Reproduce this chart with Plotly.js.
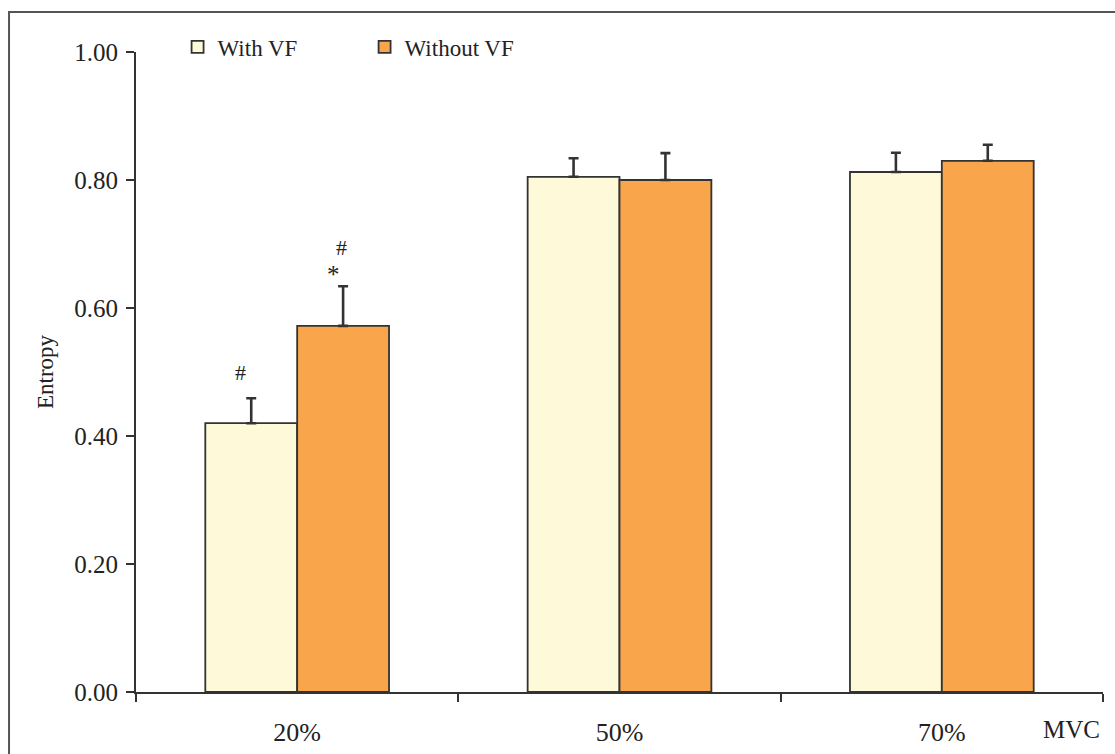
<!DOCTYPE html>
<html><head><meta charset="utf-8">
<script src="https://cdn.plot.ly/plotly-3.0.1.min.js"></script>
<style>html,body{margin:0;padding:0;background:#fff}#chart{width:1115px;height:754px}</style>
</head><body><div id="chart"></div>
<script>
const categories = ['20%', '50%', '70%'];
const withVF = [0.420, 0.805, 0.8125];
const withVFErr = [0.039, 0.029, 0.030];
const withoutVF = [0.572, 0.800, 0.830];
const withoutVFErr = [0.062, 0.042, 0.025];
const seriesNames = ['With VF', 'Without VF'];

const font = 'Liberation Serif, Times New Roman, serif';
const edge = {color: '#333333', width: 1.8};
function errs(e){ return {type: 'data', symmetric: false, array: e, arrayminus: e.map(() => 0), color: '#333333', thickness: 2.6, width: 5}; }

const traces = [
  {type: 'bar', name: seriesNames[0], x: categories, y: withVF, error_y: errs(withVFErr), marker: {color: '#FEF9D8', line: edge}},
  {type: 'bar', name: seriesNames[1], x: categories, y: withoutVF, error_y: errs(withoutVFErr), marker: {color: '#F8A54B', line: edge}}
];

const layout = {
  width: 1115, height: 754,
  margin: {l: 136, r: 12, t: 52, b: 62},
  paper_bgcolor: '#ffffff', plot_bgcolor: '#ffffff',
  font: {family: font, color: '#222222', size: 22},
  barmode: 'group', bargap: 0.43, bargroupgap: 0,
  showlegend: true,
  legend: {orientation: 'h', x: 0.043, xanchor: 'left', y: 1.008, yanchor: 'middle', font: {family: font, size: 23, color: '#222'}, entrywidth: 142, bgcolor: 'rgba(0,0,0,0)'},
  xaxis: {type: 'category', showline: true, linecolor: '#333333', linewidth: 2, ticks: 'outside', tickson: 'boundaries', ticklen: 8, tickwidth: 2, tickcolor: '#333333', showgrid: false, zeroline: false, ticklabelstandoff: 16, tickfont: {family: font, size: 26, color: '#222'}},
  yaxis: {range: [0, 1], showline: true, linecolor: '#333333', linewidth: 2, ticks: 'outside', ticklen: 8, tickwidth: 2, tickcolor: '#333333', showgrid: false, zeroline: false, tickvals: [0, 0.2, 0.4, 0.6, 0.8, 1.0], ticktext: ['0.00', '0.20', '0.40', '0.60', '0.80', '1.00'], tickfont: {family: font, size: 25, color: '#222'}, ticklabelstandoff: 3,
    title: {text: 'Entropy', font: {family: font, size: 23, color: '#222'}, standoff: 14}},
  shapes: [
    {type: 'rect', xref: 'paper', yref: 'paper', x0: -0.1313, x1: 1.2, y0: -0.3, y1: 1.0625, line: {color: '#555555', width: 2}, fillcolor: 'rgba(0,0,0,0)', layer: 'below'}
  ],
  annotations: [
    {xref: 'x', yref: 'y', x: '20%', xshift: -57, y: 0.5, text: '#', showarrow: false, font: {family: font, size: 22, color: '#222'}},
    {xref: 'x', yref: 'y', x: '20%', xshift: 36, y: 0.652, text: '*', showarrow: false, font: {family: font, size: 25, color: '#222'}},
    {xref: 'x', yref: 'y', x: '20%', xshift: 44, y: 0.694, text: '#', showarrow: false, font: {family: font, size: 22, color: '#222'}},
    {xref: 'paper', yref: 'paper', x: 0.999, xanchor: 'right', y: -0.035, yanchor: 'top', text: 'MVC', showarrow: false, font: {family: font, size: 25, color: '#222'}}
  ]
};

Plotly.newPlot('chart', traces, layout, {displayModeBar: false, staticPlot: true});
</script></body></html>
